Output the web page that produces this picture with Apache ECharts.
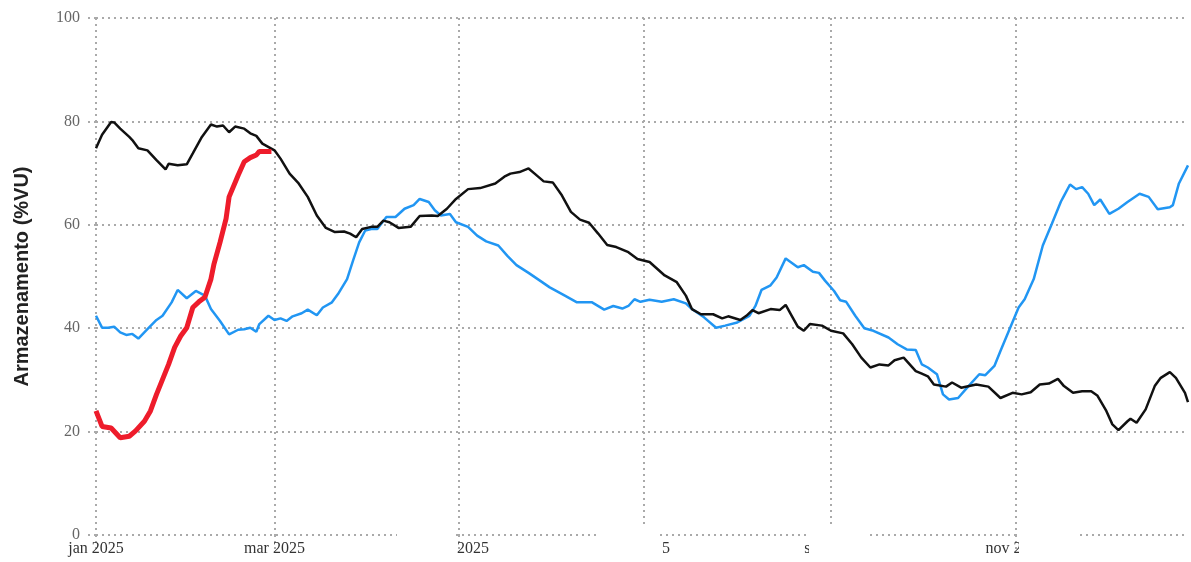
<!DOCTYPE html>
<html>
<head>
<meta charset="utf-8">
<script src="https://cdn.jsdelivr.net/npm/echarts@6/dist/echarts.min.js"></script>
<style>
  html, body { margin: 0; padding: 0; background: #fff; }
  #chart { width: 1191px; height: 562px; }
</style>
</head>
<body>
<div id="chart"></div>
<script>
// datas (2025) e armazenamento em %VU
const blackDates = ['2025-01-01','2025-01-03','2025-01-06','2025-01-07','2025-01-09','2025-01-12','2025-01-13','2025-01-15','2025-01-18','2025-01-21','2025-01-24','2025-01-25','2025-01-28','2025-01-31','2025-02-02','2025-02-05','2025-02-08','2025-02-10','2025-02-12','2025-02-14','2025-02-16','2025-02-19','2025-02-21','2025-02-23','2025-02-25','2025-03-01','2025-03-03','2025-03-06','2025-03-09','2025-03-12','2025-03-15','2025-03-18','2025-03-21','2025-03-24','2025-03-26','2025-03-28','2025-03-30','2025-04-02','2025-04-04','2025-04-06','2025-04-08','2025-04-11','2025-04-15','2025-04-18','2025-04-22','2025-04-24','2025-04-27','2025-04-30','2025-05-04','2025-05-08','2025-05-13','2025-05-16','2025-05-18','2025-05-21','2025-05-24','2025-05-26','2025-05-29','2025-06-01','2025-06-04','2025-06-07','2025-06-10','2025-06-13','2025-06-16','2025-06-19','2025-06-22','2025-06-26','2025-06-29','2025-07-03','2025-07-08','2025-07-12','2025-07-15','2025-07-17','2025-07-20','2025-07-24','2025-07-27','2025-07-29','2025-08-02','2025-08-04','2025-08-06','2025-08-08','2025-08-12','2025-08-15','2025-08-17','2025-08-19','2025-08-21','2025-08-23','2025-08-25','2025-08-29','2025-09-01','2025-09-05','2025-09-08','2025-09-11','2025-09-14','2025-09-17','2025-09-20','2025-09-22','2025-09-25','2025-09-27','2025-09-29','2025-10-01','2025-10-03','2025-10-05','2025-10-09','2025-10-11','2025-10-14','2025-10-19','2025-10-23','2025-10-27','2025-10-31','2025-11-03','2025-11-06','2025-11-09','2025-11-12','2025-11-15','2025-11-17','2025-11-20','2025-11-23','2025-11-26','2025-11-28','2025-12-01','2025-12-03','2025-12-05','2025-12-08','2025-12-09','2025-12-11','2025-12-14','2025-12-17','2025-12-19','2025-12-22','2025-12-24','2025-12-27','2025-12-28'];
const blackValues = [74.8,77.4,79.9,79.8,78.6,77.0,76.4,74.8,74.4,72.5,70.7,71.8,71.5,71.7,73.8,77.0,79.4,79.0,79.2,77.9,79.0,78.6,77.7,77.2,75.7,74.4,72.8,69.9,68.0,65.4,61.8,59.4,58.6,58.7,58.3,57.6,59.2,59.6,59.6,60.8,60.5,59.4,59.6,61.7,61.8,61.7,63.1,65.0,66.9,67.1,68.0,69.3,69.9,70.2,70.9,69.9,68.4,68.2,65.7,62.5,61.0,60.4,58.3,56.1,55.7,54.7,53.4,52.8,50.2,48.9,46.3,43.7,42.7,42.7,41.9,42.3,41.6,42.4,43.5,42.9,43.7,43.5,44.5,42.4,40.3,39.5,40.8,40.5,39.5,39.0,36.9,34.3,32.4,33.0,32.8,33.8,34.3,33.0,31.7,31.2,30.7,29.1,28.7,29.5,28.5,29.1,28.7,26.5,27.5,27.2,27.6,29.1,29.3,30.2,28.8,27.5,27.8,27.8,27.0,24.0,21.4,20.3,22.0,22.5,21.7,24.3,28.8,30.4,31.5,30.4,27.5,25.7];

const blueDates = ['2025-01-01','2025-01-03','2025-01-05','2025-01-07','2025-01-09','2025-01-11','2025-01-13','2025-01-15','2025-01-18','2025-01-21','2025-01-23','2025-01-26','2025-01-28','2025-01-31','2025-02-03','2025-02-06','2025-02-08','2025-02-11','2025-02-14','2025-02-17','2025-02-19','2025-02-21','2025-02-23','2025-02-24','2025-02-27','2025-03-01','2025-03-03','2025-03-05','2025-03-07','2025-03-10','2025-03-12','2025-03-15','2025-03-17','2025-03-20','2025-03-22','2025-03-25','2025-03-27','2025-03-29','2025-03-31','2025-04-02','2025-04-04','2025-04-07','2025-04-10','2025-04-13','2025-04-16','2025-04-18','2025-04-21','2025-04-23','2025-04-25','2025-04-28','2025-04-30','2025-05-04','2025-05-07','2025-05-10','2025-05-14','2025-05-17','2025-05-20','2025-05-24','2025-05-28','2025-05-31','2025-06-05','2025-06-09','2025-06-14','2025-06-18','2025-06-21','2025-06-24','2025-06-26','2025-06-28','2025-06-30','2025-07-03','2025-07-07','2025-07-11','2025-07-15','2025-07-17','2025-07-21','2025-07-25','2025-07-28','2025-08-01','2025-08-05','2025-08-07','2025-08-09','2025-08-12','2025-08-14','2025-08-17','2025-08-21','2025-08-23','2025-08-26','2025-08-28','2025-08-30','2025-09-02','2025-09-04','2025-09-06','2025-09-09','2025-09-12','2025-09-15','2025-09-20','2025-09-23','2025-09-26','2025-09-29','2025-10-01','2025-10-03','2025-10-06','2025-10-08','2025-10-10','2025-10-13','2025-10-16','2025-10-20','2025-10-22','2025-10-25','2025-10-27','2025-10-30','2025-11-02','2025-11-04','2025-11-07','2025-11-10','2025-11-13','2025-11-16','2025-11-17','2025-11-19','2025-11-21','2025-11-23','2025-11-25','2025-11-27','2025-11-29','2025-12-02','2025-12-05','2025-12-08','2025-12-12','2025-12-15','2025-12-18','2025-12-22','2025-12-23','2025-12-25','2025-12-28'];
const blueValues = [42.4,40.1,40.1,40.3,39.2,38.7,38.9,38.0,39.8,41.6,42.4,45.0,47.4,45.8,47.2,46.3,43.7,41.4,38.8,39.7,39.8,40.1,39.3,40.8,42.4,41.6,41.9,41.4,42.3,42.9,43.6,42.5,44.0,45.0,46.6,49.5,53.1,56.6,58.9,59.2,59.2,61.5,61.5,63.1,63.8,65.0,64.4,62.8,61.8,62.1,60.5,59.6,57.9,56.8,56.0,54.0,52.2,50.7,49.1,47.9,46.3,45.0,45.0,43.6,44.3,43.8,44.3,45.6,45.1,45.5,45.1,45.6,44.8,43.7,42.1,40.1,40.5,41.1,42.4,44.3,47.4,48.3,49.8,53.5,51.8,52.2,50.9,50.7,49.2,47.2,45.4,45.1,42.4,40.0,39.5,38.2,36.9,35.9,35.8,33.0,32.4,31.1,27.2,26.2,26.5,28.5,31.1,30.9,32.7,35.6,39.8,44.0,45.6,49.5,56.0,60.2,64.5,65.6,67.8,66.9,67.3,66.0,63.8,64.9,62.1,63.1,64.4,66.0,65.4,63.0,63.4,63.8,68.0,71.5];

const redDates = ['2025-01-01','2025-01-03','2025-01-06','2025-01-09','2025-01-12','2025-01-14','2025-01-17','2025-01-19','2025-01-21','2025-01-23','2025-01-25','2025-01-27','2025-01-29','2025-01-31','2025-02-02','2025-02-04','2025-02-06','2025-02-08','2025-02-09','2025-02-11','2025-02-13','2025-02-14','2025-02-17','2025-02-19','2025-02-21','2025-02-23','2025-02-24','2025-02-28'];
const redValues = [24.0,21.0,20.7,18.8,19.1,20.1,22.0,24.0,27.2,30.1,33.0,36.3,38.5,40.1,44.0,45.1,46.0,49.5,52.4,56.6,61.2,65.4,69.6,72.2,73.0,73.5,74.2,74.2];

// marcas do eixo x (meses) e eixo y
const monthTicks = ['2025-01-01','2025-03-01','2025-05-01','2025-07-01','2025-09-01','2025-11-01'];
const monthLabels = ['jan 2025', 'mar 2025', '{h|mai }2025', '{h|jul 202}5', 's{h|et 2025}', 'nov 2{h|025}'];
const yTicks = [0, 20, 40, 60, 80, 100];

function ts(s) {
  const p = s.split('-');
  return new Date(+p[0], +p[1] - 1, +p[2]).getTime();
}
function pairs(dates, values) {
  return dates.map(function (d, i) { return [ts(d), values[i]]; });
}

const tickValues = monthTicks.map(ts);
const dotted = { color: '#aaa', width: 2, type: [2, 4] };
const serif = 'Liberation Serif, Times New Roman, serif';

let myChart = echarts.init(document.getElementById('chart'));
myChart.setOption({
  animation: false,
  backgroundColor: '#fff',
  grid: { left: 96, right: 3, top: 18, bottom: 27, outerBoundsMode: 'none', containLabel: false },
  xAxis: {
    type: 'value',
    min: ts('2025-01-01'),
    max: ts('2025-12-28'),
    axisLine: { show: false },
    axisTick: { show: true, customValues: tickValues, length: 18, lineStyle: dotted },
    splitLine: { show: true, lineStyle: dotted },
    axisLabel: {
      customValues: tickValues,
      showMinLabel: true,
      showMaxLabel: true,
      hideOverlap: false,
      margin: 6,
      color: '#333',
      fontFamily: serif,
      fontSize: 16,
      formatter: function (val) {
        const i = tickValues.indexOf(val);
        return i >= 0 ? monthLabels[i] : '';
      },
      rich: {
        h: { color: 'rgba(0,0,0,0)', fontFamily: serif, fontSize: 16 }
      }
    }
  },
  yAxis: {
    type: 'value',
    min: 0,
    max: 100,
    interval: 20,
    name: 'Armazenamento (%VU)',
    nameLocation: 'middle',
    nameGap: 64,
    nameTextStyle: { fontFamily: 'Liberation Sans, Arial, sans-serif', fontWeight: 'bold', fontSize: 20, color: '#222' },
    axisLine: { show: false },
    axisTick: { show: true, length: 9, lineStyle: dotted },
    splitLine: { show: true, lineStyle: dotted },
    axisLabel: {
      margin: 16,
      color: '#666',
      fontFamily: serif,
      fontSize: 16,
      formatter: function (v) { return yTicks.indexOf(v) >= 0 ? String(v) : ''; }
    }
  },
  graphic: [
    { type: 'rect', shape: { x: 397, y: 527, width: 58, height: 35 }, style: { fill: '#fff' }, z: 5 },
    { type: 'rect', shape: { x: 598, y: 527, width: 60, height: 35 }, style: { fill: '#fff' }, z: 5 },
    { type: 'rect', shape: { x: 809, y: 527, width: 57, height: 35 }, style: { fill: '#fff' }, z: 5 },
    { type: 'rect', shape: { x: 1019, y: 527, width: 61, height: 35 }, style: { fill: '#fff' }, z: 5 }
  ],
  series: [
    {
      name: 'blue',
      type: 'line',
      showSymbol: false,
      data: pairs(blueDates, blueValues),
      lineStyle: { color: '#2196f3', width: 2.5 },
      z: 2
    },
    {
      name: 'black',
      type: 'line',
      showSymbol: false,
      data: pairs(blackDates, blackValues),
      lineStyle: { color: '#111', width: 2.5 },
      z: 3
    },
    {
      name: 'red',
      type: 'line',
      showSymbol: false,
      data: pairs(redDates, redValues),
      lineStyle: { color: '#ee1c2b', width: 5 },
      z: 4
    }
  ]
});
</script>
</body>
</html>
